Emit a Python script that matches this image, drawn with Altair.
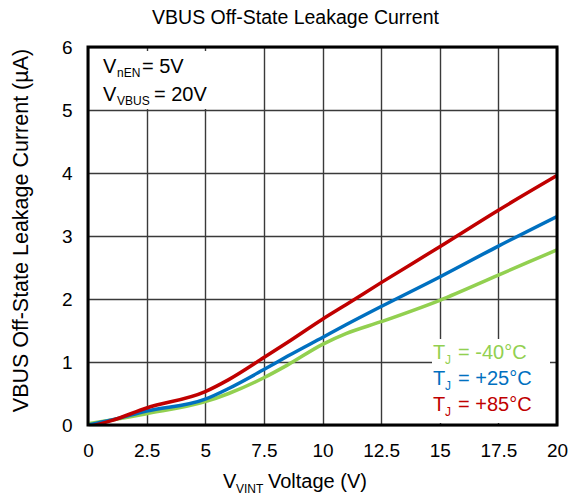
import altair as alt
import pandas as pd

# Data
vint = [0, 1, 2.5, 5, 6, 7.5, 8.5, 10, 11, 12.5, 15, 17.5, 20]
i_m40 = [0.02, 0.08, 0.18, 0.37, 0.50, 0.75, 0.95, 1.28, 1.45, 1.64, 1.98, 2.38, 2.78]
i_p25 = [0.00, 0.08, 0.22, 0.41, 0.58, 0.88, 1.09, 1.39, 1.59, 1.88, 2.35, 2.84, 3.31]
i_p85 = [-0.03, 0.07, 0.27, 0.53, 0.72, 1.07, 1.31, 1.68, 1.91, 2.26, 2.83, 3.41, 3.96]
series_names = ["-40", "+25", "+85"]
series_colors = ["#92D050", "#0070C0", "#C00000"]
x_ticks = [0, 2.5, 5, 7.5, 10, 12.5, 15, 17.5, 20]
y_ticks = [0, 1, 2, 3, 4, 5, 6]

FONT = "Liberation Sans"
W, H = 469, 378

rows = []
for name, vals in zip(series_names, [i_m40, i_p25, i_p85]):
    for x, y in zip(vint, vals):
        rows.append({"V": x, "I": y, "T": name})
df = pd.DataFrame(rows)

xscale = alt.Scale(domain=[0, 20], nice=False, zero=False)
yscale = alt.Scale(domain=[0, 6], nice=False, zero=False)

base = alt.Chart(df)

lines = base.mark_line(strokeWidth=3.5, interpolate="monotone", clip=True).encode(
    x=alt.X("V:Q", scale=xscale,
            axis=alt.Axis(values=x_ticks, title=None, grid=True, gridColor="#3a3a3a",
                          gridWidth=1.4, gridOpacity=1, tickSize=0, domain=False,
                          labelFont=FONT, labelFontSize=19, labelColor="black",
                          labelPadding=16, labelFlush=False,
                          labelExpr="datum.value")),
    y=alt.Y("I:Q", scale=yscale,
            axis=alt.Axis(values=y_ticks, title="VBUS Off-State Leakage Current (µA)",
                          grid=True, gridColor="#3a3a3a", gridWidth=1.4, gridOpacity=1,
                          tickSize=0, domain=False, labelFont=FONT, labelFontSize=19,
                          labelColor="black", labelPadding=16, labelFlush=False,
                          titleFont=FONT, titleFontSize=21.5, titleFontWeight="normal",
                          titleColor="black", titleX=-56, titleY=183)),
    color=alt.Color("T:N", scale=alt.Scale(domain=series_names, range=series_colors),
                    legend=None),
    order=alt.Order("T:N"),
)

# White backgrounds for annotation and legend boxes
box_ann = alt.Chart(pd.DataFrame({"a": [0]})).mark_rect(fill="white").encode(
    x=alt.value(2), x2=alt.value(152), y=alt.value(4), y2=alt.value(62))
box_leg = alt.Chart(pd.DataFrame({"a": [0]})).mark_rect(fill="white").encode(
    x=alt.value(344), x2=alt.value(462), y=alt.value(292), y2=alt.value(376))

frame = alt.Chart(pd.DataFrame({"a": [0]})).mark_rect(
    fill=None, stroke="black", strokeWidth=3).encode(
    x=alt.value(0), x2=alt.value(W), y=alt.value(0), y2=alt.value(H))


def txt(s, x, y, size, color="black"):
    return alt.Chart(pd.DataFrame({"t": [s]})).mark_text(
        font=FONT, fontSize=size, align="left", baseline="middle", color=color,
        clip=False).encode(text="t:N", x=alt.value(x), y=alt.value(y))


ann = [
    txt("V", 15, 20, 20), txt("nEN", 29, 26, 12), txt("= 5V", 54, 20, 20),
    txt("V", 15, 48, 20), txt("VBUS", 29, 54, 12), txt("= 20V", 66, 48, 20),
]
leg = []
leg_labels = ["= -40°C", "= +25°C", "= +85°C"]
leg_y = [306, 332, 358]
for lab, yy, col in zip(leg_labels, leg_y, series_colors):
    leg += [txt("T", 345, yy, 20, col), txt("J", 357, yy + 7, 12, col),
            txt(lab, 370, yy, 20, col)]

xtitle = [txt("V", 135, 435, 20), txt("VINT", 148, 442, 12), txt("Voltage (V)", 180, 435, 20)]

chart = alt.layer(lines, box_ann, box_leg, frame, *ann, *leg, *xtitle).properties(
    width=W, height=H,
    title=alt.TitleParams("VBUS Off-State Leakage Current", font=FONT, fontSize=19.5,
                          fontWeight="normal", color="black", anchor="middle",
                          offset=10, dx=-27),
    padding={"left": 80, "top": 39, "right": 11, "bottom": 72},
    autosize=alt.AutoSizeParams(type="none"),
).configure_view(stroke=None).configure(background="white")

chart.save("out.html", embed_options={"renderer": "svg", "actions": False})
